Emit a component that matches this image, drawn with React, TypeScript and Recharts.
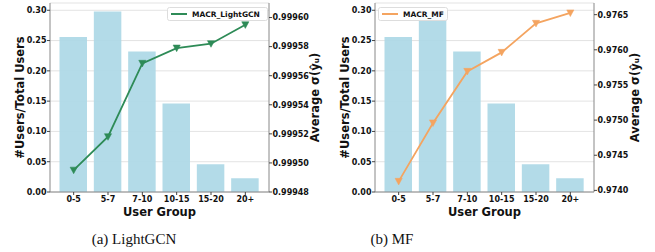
import React from "react";
import { ComposedChart, Bar, Line, XAxis, YAxis, CartesianGrid, Legend } from "recharts";

const groups = ["0-5", "5-7", "7-10", "10-15", "15-20", "20+"];
const userShare = [0.256, 0.298, 0.232, 0.146, 0.0457, 0.0225];
const gcnSigma = [0.999495, 0.999518, 0.9995685, 0.999579, 0.999582, 0.999595];
const mfSigma = [0.974128, 0.974959, 0.975693, 0.975963, 0.976376, 0.976524];

const leftTicks = [0, 0.05, 0.1, 0.15, 0.2, 0.25, 0.3];
const gcnTicks = [0.99948, 0.9995, 0.99952, 0.99954, 0.99956, 0.99958, 0.9996];
const mfTicks = [0.974, 0.9745, 0.975, 0.9755, 0.976, 0.9765];

const gcnData = groups.map((g, i) => ({ group: g, share: userShare[i], sigma: gcnSigma[i] }));
const mfData = groups.map((g, i) => ({ group: g, share: userShare[i], sigma: mfSigma[i] }));

const FONT = "DejaVu Sans";
const tickStyle = { fontFamily: FONT, fontSize: 8, fontWeight: "bold", fill: "#111" };
const FRAME = "#888";

const makeDot = (color: string) => (props: any) => {
  const { cx, cy, index } = props;
  if (cx == null || cy == null) return <g key={index} />;
  const s = 3.6;
  return (
    <polygon
      key={index}
      points={`${cx - s},${cy - s * 0.85} ${cx + s},${cy - s * 0.85} ${cx},${cy + s}`}
      fill={color}
      stroke={color}
      strokeWidth={0.5}
    />
  );
};

const legendContent = (name: string, color: string, w: number) => () => (
  <svg width={w} height={14} style={{ display: "block" }}>
    <rect x={0.5} y={0.5} width={w - 1} height={13} rx={2} fill="#fff" fillOpacity={0.9} stroke="#ddd" />
    <line x1={4} x2={20} y1={7} y2={7} stroke={color} strokeWidth={2} />
    <text x={25} y={10} fontFamily={FONT} fontSize={7.5} fontWeight="bold" fill="#111">
      {name}
    </text>
  </svg>
);

type PanelProps = {
  data: any[];
  width: number;
  rightWidth: number;
  rightDomain: [number, number];
  rightTicks: number[];
  rightDigits: number;
  rightLabelOffset: number;
  color: string;
  name: string;
  legendLeft: number;
  legendWidth: number;
};

function Panel(p: PanelProps) {
  return (
    <ComposedChart width={p.width} height={220} data={p.data} margin={{ top: 3, right: 0, bottom: 0, left: 0 }}>
      <CartesianGrid yAxisId="left" vertical={false} stroke="#dcdcdc" strokeWidth={0.8} />
      <XAxis
        dataKey="group"
        padding={{ left: 6.5, right: 6.5 }}
        height={28}
        tick={tickStyle}
        tickSize={3}
        tickMargin={1.3}
        stroke={FRAME}
        tickLine={{ stroke: "#444" }}
        interval={0}
        label={{
          content: (lp: any) => {
            const vb = lp.viewBox || {};
            return (
              <text x={vb.x + vb.width / 2} y={215.5} textAnchor="middle" fontFamily={FONT} fontSize={11.5} fontWeight="bold" fill="#111">
                User Group
              </text>
            );
          },
        }}
      />
      <XAxis xAxisId="top" dataKey="group" orientation="top" height={0} tick={false} tickLine={false} stroke={FRAME} />
      <YAxis
        yAxisId="left"
        type="number"
        domain={[0, 0.312]}
        allowDataOverflow
        ticks={leftTicks}
        tickFormatter={(v: number) => v.toFixed(2)}
        width={50}
        tick={tickStyle}
        tickSize={3}
        tickMargin={0.5}
        stroke={FRAME}
        tickLine={{ stroke: "#444" }}
        label={{
          content: (lp: any) => {
            const vb = lp.viewBox || {};
            const cy = vb.y + vb.height / 2;
            return (
              <text x={20} y={cy} transform={`rotate(-90 20 ${cy})`} textAnchor="middle" dominantBaseline="central" fontFamily={FONT} fontSize={11.5} fontWeight="bold" fill="#111">
                #Users/Total Users
              </text>
            );
          },
        }}
      />
      <YAxis
        yAxisId="right"
        orientation="right"
        type="number"
        domain={p.rightDomain}
        allowDataOverflow
        ticks={p.rightTicks}
        tickFormatter={(v: number) => v.toFixed(p.rightDigits)}
        width={p.rightWidth}
        tick={tickStyle}
        tickSize={3}
        tickMargin={0.5}
        stroke={FRAME}
        tickLine={{ stroke: "#444" }}
        label={{
          content: (lp: any) => {
            const vb = lp.viewBox || {};
            const cx = vb.x + p.rightLabelOffset;
            const cy = vb.y + vb.height / 2;
            return (
              <text x={cx} y={cy} transform={`rotate(-90 ${cx} ${cy})`} textAnchor="middle" dominantBaseline="central" fontFamily={FONT} fontSize={11.5} fontWeight="bold" fill="#111">
                Average σ(ŷᵤ)
              </text>
            );
          },
        }}
      />
      <Bar yAxisId="left" dataKey="share" fill="#ADD8E6" fillOpacity={0.93} barSize={27.5} isAnimationActive={false} />
      <Line
        yAxisId="right"
        dataKey="sigma"
        name={p.name}
        stroke={p.color}
        strokeWidth={1.8}
        dot={makeDot(p.color)}
        activeDot={false}
        isAnimationActive={false}
      />
      <Legend
        layout="vertical"
        align="center"
        verticalAlign="middle"
        content={legendContent(p.name, p.color, p.legendWidth)}
        wrapperStyle={{ left: p.legendLeft, top: 7, width: p.legendWidth, height: 14 }}
      />
    </ComposedChart>
  );
}

export default function App() {
  return (
    <div style={{ position: "absolute", left: 0, top: 0, width: 655, height: 252, background: "#fff" }}>
      <div style={{ position: "absolute", left: 0, top: 0 }}>
        <Panel
          data={gcnData}
          width={325}
          rightWidth={56}
          rightDomain={[0.99948, 0.99961]}
          rightTicks={gcnTicks}
          rightDigits={5}
          rightLabelOffset={46}
          color="#2E8B57"
          name="MACR_LightGCN"
          legendLeft={167}
          legendWidth={101}
        />
      </div>
      <div style={{ position: "absolute", left: 325, top: 0 }}>
        <Panel
          data={mfData}
          width={330}
          rightWidth={61}
          rightDomain={[0.973977, 0.976666]}
          rightTicks={mfTicks}
          rightDigits={4}
          rightLabelOffset={41}
          color="#F4A460"
          name="MACR_MF"
          legendLeft={53}
          legendWidth={70}
        />
      </div>
      <div style={{ position: "absolute", left: 0, top: 231, width: 268, textAlign: "center", fontFamily: "Liberation Serif", fontSize: 15, color: "#111" }}>
        (a) LightGCN
      </div>
      <div style={{ position: "absolute", left: 325, top: 231, width: 134, textAlign: "center", fontFamily: "Liberation Serif", fontSize: 15, color: "#111" }}>
        (b) MF
      </div>
    </div>
  );
}
